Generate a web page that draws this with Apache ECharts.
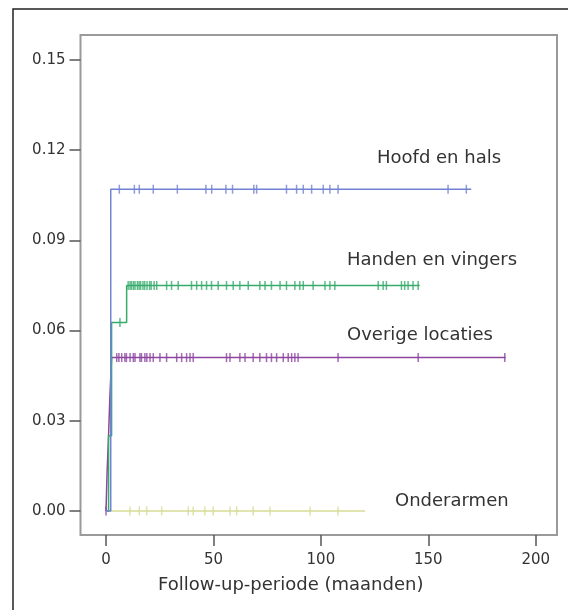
<!DOCTYPE html>
<html>
<head>
<meta charset="utf-8">
<script src="https://cdn.jsdelivr.net/npm/echarts@6/dist/echarts.min.js"></script>
<style>html,body{margin:0;padding:0;background:#fff;}#c{width:568px;height:610px;}</style>
</head>
<body>
<div id="c"></div>
<script>
// ---- data ----
const xTicks = [0, 50, 100, 150, 200];
const yTicks = [0, 0.03, 0.06, 0.09, 0.12, 0.15];

const seriesNames = ['Onderarmen', 'Overige locaties', 'Handen en vingers', 'Hoofd en hals'];

// step curves: [time, cumulative incidence]
const curveOnderarmen = [[0, 0], [120.5, 0]];
const curveOverige = [[0, 0], [0.5, 0.0127], [1.2, 0.0253], [1.8, 0.038], [2.6, 0.051], [186, 0.051]];
const curveHanden = [[0, 0], [1.2, 0.025], [2.6, 0.0627], [9.6, 0.075], [146, 0.075]];
const curveHoofd = [[0, 0], [2.2, 0.107], [170, 0.107]];

// censored observations (time)
const censorOnderarmen = [11.2, 15.5, 18.9, 25.9, 38.3, 40.6, 46, 49.9, 57.7, 60.8, 68.5, 76.3, 95, 108];
const censorOverige = [0, 5, 6, 7.3, 8.8, 9.5, 11.2, 12.7, 13.5, 15.8, 16.5, 18.1, 19, 20.5, 22, 25.1, 28.2, 32.9, 35.2, 37.5, 39.1, 40.6, 56.1, 57.7, 62.3, 64.7, 68.5, 71.6, 74.7, 77, 79.4, 82.5, 84.8, 86.4, 87.9, 89.4, 108, 145.3, 185.6];
const censorHanden = [6.5, 10.3, 11.2, 11.9, 12.8, 13.5, 14.6, 15.4, 16.1, 17.2, 18.0, 19.1, 20.3, 21.0, 22.4, 23.6, 28.2, 30.5, 33.6, 39.8, 42.2, 44.5, 46.8, 49.1, 52.2, 56.1, 59.2, 62.3, 66.2, 71.6, 74, 77, 81, 84, 87.9, 90.2, 91.8, 96.4, 101.9, 104.2, 106.5, 126.7, 129, 130.5, 137.5, 139, 140.6, 142.9, 145.3];
const censorHoofd = [6.2, 13.2, 15.5, 22, 33.2, 46.5, 49.2, 55.8, 58.9, 68.8, 70.1, 84, 88.7, 91.8, 95.7, 101.1, 104.2, 108, 159.2, 167.7];

const colors = ['#d6dc95', '#8c45a0', '#35ab6a', '#7282d3'];

// ---- build ----
function levelAt(curve, x) {
  let v = curve[0][1];
  for (const p of curve) { if (p[0] <= x) v = p[1]; }
  return v;
}
const curves = [curveOnderarmen, curveOverige, curveHanden, curveHoofd];
const censors = [censorOnderarmen, censorOverige, censorHanden, censorHoofd];

const series = [];
curves.forEach((c, i) => {
  series.push({
    type: 'line', name: seriesNames[i], step: 'end', data: c, symbol: 'none',
    lineStyle: { color: colors[i], width: 1.5 }, z: 2 + i, silent: true
  });
  series.push({
    type: 'scatter', name: seriesNames[i] + ' censor',
    data: censors[i].map(x => [x, levelAt(c, x)]),
    symbol: 'rect', symbolSize: [1.5, 9],
    itemStyle: { color: colors[i] }, z: 2 + i, silent: true
  });
});

const font = 'DejaVu Sans';
const chart = echarts.init(document.getElementById('c'), null, { renderer: 'canvas' });
chart.setOption({
  animation: false,
  backgroundColor: '#fff',
  grid: { left: 80.5, right: 11, top: 35, bottom: 75, show: true, borderColor: '#9a9a9a', borderWidth: 2, backgroundColor: 'transparent' },
  xAxis: {
    type: 'value', min: -11.87, max: 209.9,
    axisLine: { show: false, onZero: false },
    splitLine: { show: false },
    axisTick: { show: true, length: 11, customValues: xTicks, lineStyle: { color: '#555', width: 1.5 } },
    axisLabel: { customValues: xTicks, margin: 18, fontFamily: font, fontSize: 15, color: '#333', formatter: v => String(v) },
    name: 'Follow-up-periode (maanden)', nameLocation: 'middle', nameGap: 41,
    nameTextStyle: { fontFamily: font, fontSize: 18, color: '#333', padding: [0, 56, 0, 0] }
  },
  yAxis: {
    type: 'value', min: -0.008, max: 0.1583,
    axisLine: { show: false, onZero: false },
    splitLine: { show: false },
    axisTick: { show: true, length: 11, customValues: yTicks, lineStyle: { color: '#555', width: 1.5 } },
    axisLabel: { customValues: yTicks, margin: 15, fontFamily: font, fontSize: 15, color: '#333', formatter: v => v.toFixed(2) }
  },
  series: series,
  graphic: [
    { type: 'rect', shape: { x: 13, y: 9, width: 800, height: 800 }, style: { fill: 'none', stroke: '#222', lineWidth: 1.5 }, silent: true },
    { type: 'text', x: 377, y: 158, style: { text: 'Hoofd en hals', font: '18px "DejaVu Sans"', fill: '#333', textAlign: 'left', textVerticalAlign: 'middle' } },
    { type: 'text', x: 347, y: 260, style: { text: 'Handen en vingers', font: '18px "DejaVu Sans"', fill: '#333', textAlign: 'left', textVerticalAlign: 'middle' } },
    { type: 'text', x: 347, y: 335, style: { text: 'Overige locaties', font: '18px "DejaVu Sans"', fill: '#333', textAlign: 'left', textVerticalAlign: 'middle' } },
    { type: 'text', x: 395, y: 501, style: { text: 'Onderarmen', font: '18px "DejaVu Sans"', fill: '#333', textAlign: 'left', textVerticalAlign: 'middle' } }
  ]
});
</script>
</body>
</html>
